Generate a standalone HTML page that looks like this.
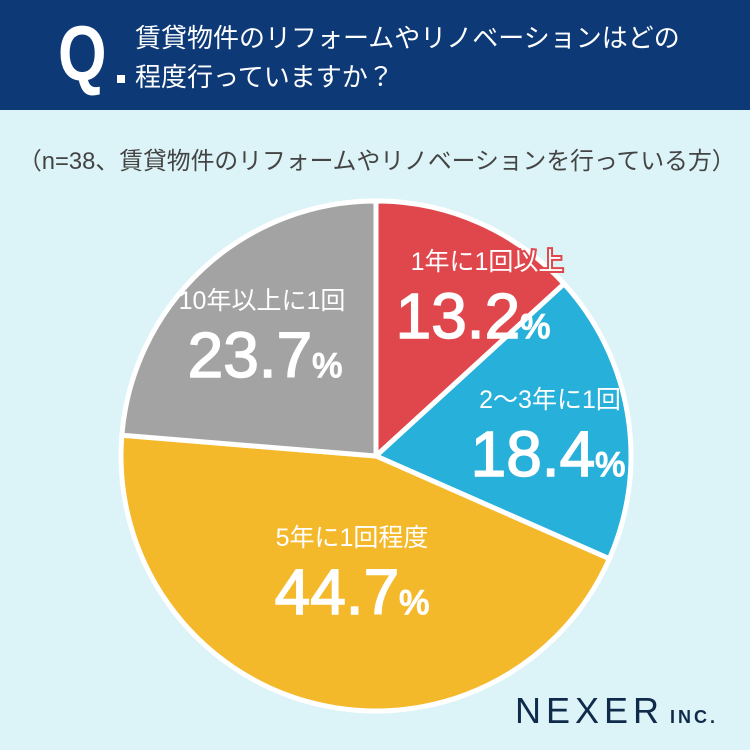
<!DOCTYPE html>
<html><head><meta charset="utf-8"><style>
body{margin:0;width:750px;height:750px;background:#dcf4f8;font-family:"Liberation Sans","Noto Sans CJK JP",sans-serif;overflow:hidden;position:relative}
#hdr{position:absolute;left:0;top:0;width:750px;height:110px;background:#0d3a77}
#q{position:absolute;left:58px;top:14px;color:#fff;font-size:78px;font-weight:bold;line-height:78px;transform:scaleX(0.8);transform-origin:left top}
#qdot{position:absolute;left:117px;top:75px;width:8px;height:8px;background:#fff}
#title{position:absolute;left:135px;top:19px;color:#fff;font-size:26px;line-height:39px;white-space:nowrap}
#sub{position:absolute;left:18px;top:141px;color:#444;font-size:23.8px;white-space:nowrap}
#logo{position:absolute;left:515px;top:690px;color:#0f2a4a;font-size:36px;letter-spacing:5px}
#logo span{font-size:18px;font-weight:bold;letter-spacing:3px;margin-left:6px}
</style></head><body>
<div id="hdr"></div>
<div id="q">Q</div>
<div id="qdot"></div>
<div id="title">賃貸物件のリフォームやリノベーションはどの<br>程度行っていますか？</div>
<div id="sub">（n=38、賃貸物件のリフォームやリノベーションを行っている方）</div>
<svg id="pie" width="750" height="750" style="position:absolute;left:0;top:0"></svg>
<div id="logo">NEXER<span>INC.</span></div>
<script>
const categories=["1年に1回以上","2〜3年に1回","5年に1回程度","10年以上に1回"];
const values=[13.2,18.4,44.7,23.7];
const colors=["#e0474c","#27b0d9","#f4b92b","#a3a3a3"];
const labelPos=[[487,270,473],[550,408,548],[352,546,352],[262,309,265]];
const svg=document.getElementById('pie');const NS='http://www.w3.org/2000/svg';
const cx=376,cy=456,r=255;
const total=values.reduce((a,b)=>a+b,0);
let a=0;
function pt(ang,rad){return [cx+rad*Math.sin(ang),cy-rad*Math.cos(ang)];}
values.forEach((v,i)=>{
 const a0=a,a1=a+v/total*2*Math.PI;a=a1;
 const p0=pt(a0,r),p1=pt(a1,r);
 const p=document.createElementNS(NS,'path');
 p.setAttribute('d',`M${cx},${cy}L${p0[0]},${p0[1]}A${r},${r} 0 ${a1-a0>Math.PI?1:0} 1 ${p1[0]},${p1[1]}Z`);
 p.setAttribute('fill',colors[i]);p.setAttribute('stroke','#fff');p.setAttribute('stroke-width','5');
 
 
 svg.appendChild(p);
});
values.forEach((v,i)=>{
 const [lx,ly,nx]=labelPos[i];
 const t=document.createElementNS(NS,'text');
 t.setAttribute('x',lx);t.setAttribute('y',ly);t.setAttribute('text-anchor','middle');
 t.setAttribute('font-size','25');t.setAttribute('fill','#fff');t.textContent=categories[i];
 if(i==0){t.setAttribute('stroke','#e0474c');t.setAttribute('stroke-width','4');t.setAttribute('paint-order','stroke');}
 
 
 svg.appendChild(t);
 const n=document.createElementNS(NS,'text');
 n.setAttribute('x',nx);n.setAttribute('y',ly+68);n.setAttribute('text-anchor','middle');
 n.setAttribute('font-size','64');n.setAttribute('fill','#fff');
 n.setAttribute('stroke','#fff');n.setAttribute('stroke-width','1.5');
 n.innerHTML=v.toFixed(1)+'<tspan font-size="34">%</tspan>';
 
 
 svg.appendChild(n);
});
</script>
</body></html>
